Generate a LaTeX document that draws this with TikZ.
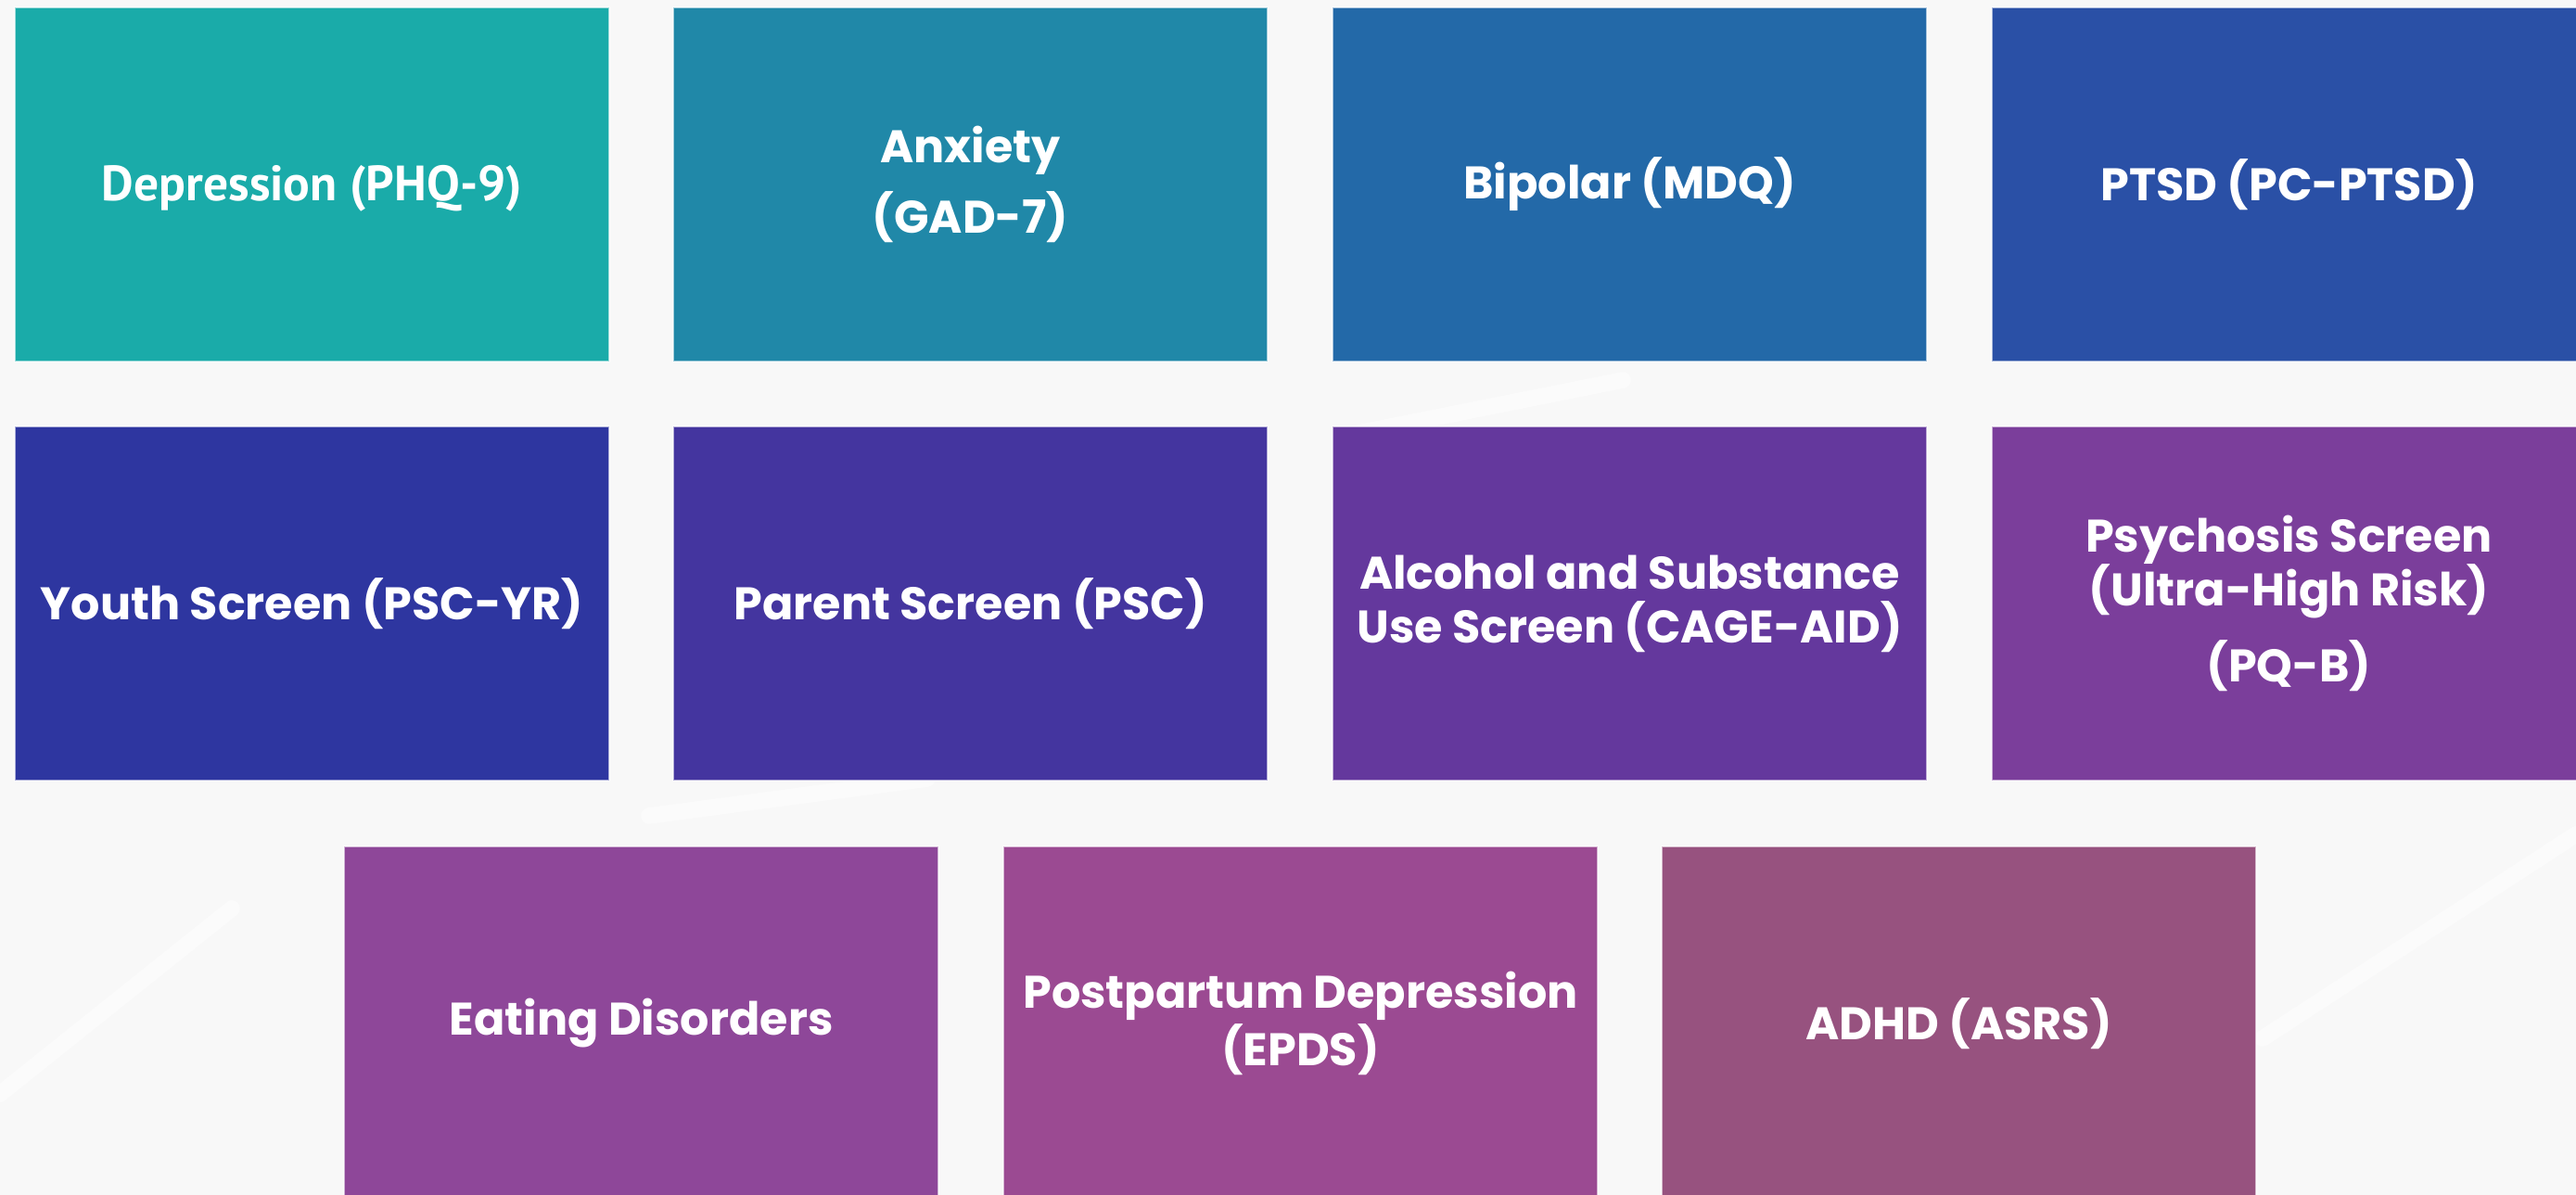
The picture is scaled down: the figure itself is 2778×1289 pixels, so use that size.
\documentclass[tikz,border=0pt]{standalone}
\usepackage{fontspec}
\setmainfont{Poppins}
\newfontfamily\deprfont{PT Sans}
\definecolor{bgc}{HTML}{F8F8F8}
\definecolor{cA}{HTML}{1AABA9}
\definecolor{cB}{HTML}{2088A8}
\definecolor{cC}{HTML}{2369A8}
\definecolor{cD}{HTML}{2A50A6}
\definecolor{cE}{HTML}{2E36A0}
\definecolor{cF}{HTML}{44359F}
\definecolor{cG}{HTML}{64389D}
\definecolor{cH}{HTML}{7B3E9B}
\definecolor{cI}{HTML}{8E4799}
\definecolor{cJ}{HTML}{9B4A92}
\definecolor{cK}{HTML}{97527F}
\begin{document}
\begin{tikzpicture}[x=0.01cm,y=-0.01cm,
  box/.style={rectangle, minimum width=6.41cm, minimum height=3.82cm, inner sep=0pt,
    text=white, align=center, draw=white, draw opacity=0.6, line width=0.5pt,
    font=\fontsize{14}{16.5}\selectfont\bfseries},
  streak/.style={white, line width=5pt, opacity=0.45, line cap=round}]
\useasboundingbox (0,0) rectangle (2778,1289);
\clip (0,0) rectangle (2778,1289);
\fill[bgc] (0,0) rectangle (2778,1289);
% faint background streaks
\draw[streak] (2440,1120) -- (2778,900);
\draw[streak] (1450,470) -- (1750,410);
\draw[streak] (0,1180) -- (250,980);
\draw[streak] (700,880) -- (1000,840);
% row 1
\node[box, fill=cA] (dep) at (336.5,199) {\deprfont\fontsize{15.2}{16.5}\selectfont\bfseries\raisebox{0.4pt}[\height][0pt]{Depression (PHQ-9)}};
\node[box, fill=cB] (anx) at (1046.5,199) {Anxiety\\[5pt](GAD-7)};
\node[box, fill=cC] (bip) at (1757.5,199) {Bipolar (MDQ)};
\node[box, fill=cD] (ptsd) at (2468.5,199) {PTSD (PC-PTSD)};
% row 2
\node[box, fill=cE] (youth) at (336.5,651) {Youth Screen (PSC-YR)};
\node[box, fill=cF] (parent) at (1046.5,651) {Parent Screen (PSC)};
\node[box, fill=cG] (alc) at (1757.5,651) {Alcohol and Substance\\Use Screen (CAGE-AID)};
\node[box, fill=cH] (psy) at (2468.5,651) {Psychosis Screen\\(Ultra-High Risk)\\[5.5pt](PQ-B)};
% row 3
\node[box, fill=cI] (eat) at (691.5,1104) {Eating Disorders};
\node[box, fill=cJ] (post) at (1402.5,1104) {Postpartum Depression\\(EPDS)};
\node[box, fill=cK] (adhd) at (2112.5,1104) {ADHD (ASRS)};
\end{tikzpicture}
\end{document}
